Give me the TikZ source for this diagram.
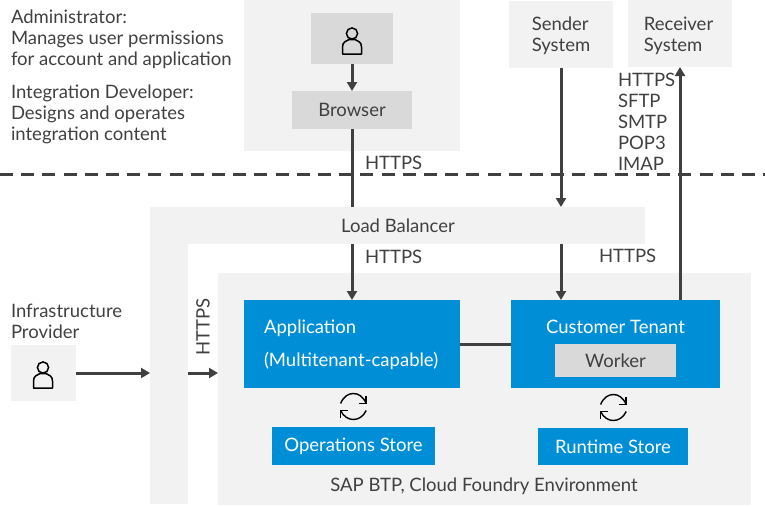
\documentclass[tikz,border=0pt]{standalone}
\usepackage{fontspec}
\setmainfont{Lato}
\usetikzlibrary{arrows.meta,calc}
\definecolor{pale}{HTML}{F2F2F2}
\definecolor{mid}{HTML}{D9D9D9}
\definecolor{sapblue}{HTML}{008FD6}
\definecolor{ink}{HTML}{404040}
\tikzset{
  box/.style={inner sep=0pt,outer sep=0pt,anchor=north west,align=center,text=ink,font=\fontsize{18.5}{21}\selectfont},
  palebox/.style={box,fill=pale},
  midbox/.style={box,fill=mid},
  bluebox/.style={box,fill=sapblue,text=white},
  lbl/.style={inner sep=0pt,outer sep=0pt,text=ink,anchor=west,align=left,font=\fontsize{18.5}{21}\selectfont},
  conn/.style={draw=ink,line width=3pt},
  arr/.style={conn,-{Triangle[width=10pt,length=9pt]}},
  personline/.style={draw=black,line width=1.5pt},
  syncline/.style={draw=black,line width=1.4pt},
}
\newcommand{\personicon}[1]{%
  \draw[personline] ($(#1)+(0,-8.5)$) circle (5.6);
  \draw[personline,line join=round] ($(#1)+(-9.5,12)$) -- ($(#1)+(-9.5,5)$) .. controls ($(#1)+(-9.5,0)$) and ($(#1)+(-6,-1)$) .. ($(#1)+(-3,-2.5)$) -- ($(#1)+(3,-2.5)$) .. controls ($(#1)+(6,-1)$) and ($(#1)+(9.5,0)$) .. ($(#1)+(9.5,5)$) -- ($(#1)+(9.5,12)$) -- cycle;
}
\newcommand{\syncicon}[1]{%
  \draw[syncline] ($(#1)+(-12.8,-3)$) .. controls ($(#1)+(-10,-10)$) and ($(#1)+(-5,-13)$) .. ($(#1)+(0,-13)$) .. controls ($(#1)+(5,-13)$) and ($(#1)+(10,-10)$) .. ($(#1)+(12.7,-3)$);
  \draw[syncline] ($(#1)+(12.7,-10.5)$) -- ($(#1)+(12.7,-3)$) -- ($(#1)+(5.5,-3)$);
  \draw[syncline] ($(#1)+(12.8,4)$) .. controls ($(#1)+(10,10)$) and ($(#1)+(5,13)$) .. ($(#1)+(0,13)$) .. controls ($(#1)+(-5,13)$) and ($(#1)+(-10,10)$) .. ($(#1)+(-12.8,4)$);
  \draw[syncline] ($(#1)+(-12.8,11.5)$) -- ($(#1)+(-12.8,4)$) -- ($(#1)+(-5.8,4)$);
}
\begin{document}
\begin{tikzpicture}[x=1pt,y=-1pt]
\useasboundingbox (0,0) rectangle (765,506);
% containers
\node[palebox,minimum width=216pt,minimum height=151pt] (client) at (244,0) {};
\node[palebox,minimum width=533pt,minimum height=232pt] (btp) at (218,273) {};
\node[palebox,minimum width=495pt,minimum height=37pt] (lb) at (150,207) {\hspace*{1pt}Load Balancer};
\node[palebox,minimum width=38pt,minimum height=297pt] (lbside) at (150,207) {};
% boxes
\node[midbox,minimum width=82pt,minimum height=51pt] (user) at (311,13) {};
\node[midbox,minimum width=120pt,minimum height=38pt] (browser) at (292,91) {Browser};
\node[palebox,align=left,minimum width=104pt,minimum height=67pt] (sender) at (509,1) {\rule{0pt}{15.5pt}Sender\\System};
\node[palebox,align=left,minimum width=104pt,minimum height=67pt] (receiver) at (628,0) {\rule{0pt}{17.5pt}Receiver\hspace*{3pt}\\System};
\node[palebox,minimum width=65pt,minimum height=56pt] (infra) at (11,345) {};
\node[bluebox,minimum width=216pt,minimum height=88pt] (app) at (244,300) {};
\node[bluebox,minimum width=209pt,minimum height=88pt] (tenant) at (511,300) {};
\node[midbox,minimum width=121pt,minimum height=33pt] (worker) at (555,344) {Worker};
\node[bluebox,minimum width=163pt,minimum height=38pt] (opstore) at (272,427) {Operations Store};
\node[bluebox,minimum width=150pt,minimum height=37pt] (rtstore) at (538,428) {Runtime Store};
% texts
\node[lbl,text=white] (apptitle) at (264,328) {Application};
\node[lbl,text=white] (appsub) at (264,361) {(Multitenant-capable)};
\node[lbl,text=white,anchor=center] (tenanttitle) at (615.5,327) {Customer Tenant};
\node[lbl,anchor=center] (btplabel) at (484,486) {SAP BTP, Cloud Foundry Environment};
\node[lbl,anchor=north west] (admin) at (11,9.5) {Administrator:\\Manages user permissions\\for account and application};
\node[lbl,anchor=north west] (dev) at (11,84.5) {Integration Developer:\\Designs and operates\\integration content};
\node[lbl,anchor=north west] (infratext) at (11,304) {Infrastructure\\Provider};
\node[lbl] (h1) at (365,163) {HTTPS};
\node[lbl] (h2) at (365,257) {HTTPS};
\node[lbl] (h3) at (599,256) {HTTPS};
\node[lbl,rotate=90,anchor=center] (h4) at (203,327) {HTTPS};
\node[lbl,anchor=north west] (protos) at (618,73) {HTTPS\\SFTP\\SMTP\\POP3\\IMAP};
% separator
\coordinate (sepL) at (0,174.5);
\coordinate (sepR) at (765,174.5);
\draw[ink,line width=3.5pt,dash pattern=on 13pt off 8.2pt] (sepL) -- (sepR);
% connectors
\draw[arr] (user.south) -- (browser.north);
\draw[conn] (browser.south) -- (browser.south |- lb.north);
\draw[arr] (lb.south -| app.north) -- (app.north);
\draw[arr] (sender.south) -- (sender.south |- lb.north);
\draw[arr] (lb.south -| sender.south) -- (tenant.north -| sender.south);
\draw[arr] (tenant.north -| receiver.south) -- (receiver.south);
\draw[conn] (app.east |- worker.north) -- (tenant.west |- worker.north);
\draw[arr] (infra.east) ++(0,0) coordinate (ia) -- (ia -| lbside.west);
\draw[arr] (ia -| lbside.east) -- (ia -| btp.west);
% icons
\personicon{352,42}
\personicon{43,376}
\syncicon{353.4,406.5}
\syncicon{613.4,407.5}
\end{tikzpicture}
\end{document}
